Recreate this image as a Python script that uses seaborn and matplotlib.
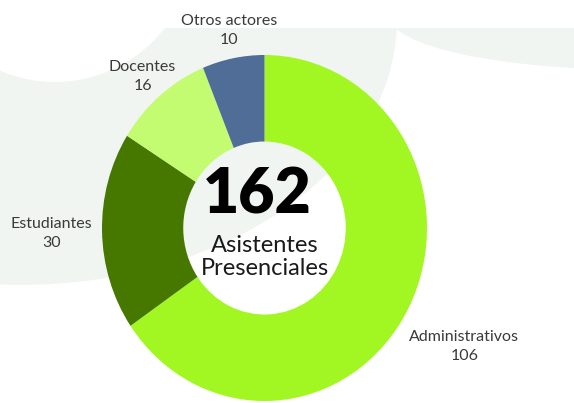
import matplotlib
matplotlib.use("Agg")
import matplotlib.pyplot as plt
from matplotlib.patches import Ellipse, Rectangle
import seaborn as sns

# data
categories = ["Administrativos", "Estudiantes", "Docentes", "Otros actores"]
values = [106, 30, 16, 10]
colors = ["#a2f722", "#467800", "#c3fc70", "#4f6d97"]
total_label = "162"
center_caption = "Asistentes\nPresenciales"

sns.set_theme(style="white")
plt.rcParams["font.family"] = ["Lato", "DejaVu Sans"]

W, H = 574, 403
fig = plt.figure(figsize=(W / 100, H / 100), dpi=100)
fig.patch.set_facecolor("white")

# decorative background, in pixel coords
bg = fig.add_axes([0, 0, 1, 1])
bg.set_xlim(0, W)
bg.set_ylim(H, 0)
bg.axis("off")
gray = "#f1f5f2"
bg.add_patch(Ellipse((20, 20), 2 * 377, 2 * 265, color=gray, lw=0))
bg.add_patch(Ellipse((640, 17), 2 * 250, 2 * 53, color=gray, lw=0))
bg.add_patch(Ellipse((55, -60), 2 * 140, 2 * 142, color="white", lw=0))
bg.add_patch(Rectangle((0, 0), W, 28, color="white", lw=0))

# donut
ax = fig.add_axes([102 / W, 2 / H, 325 / W, 346 / H])
ax.pie(values, colors=colors, startangle=90, counterclock=False,
       wedgeprops=dict(width=0.5, linewidth=0))
ax.set_aspect("auto")
ax.set_xlim(-1, 1)
ax.set_ylim(-1, 1)
ax.patch.set_alpha(0)

label_pos = {
    "Administrativos": (1.23, -0.685),
    "Estudiantes": (-1.31, -0.03),
    "Docentes": (-0.75, 0.875),
    "Otros actores": (-0.22, 1.14),
}
for cat, val in zip(categories, values):
    x, y = label_pos[cat]
    ax.text(x, y, f"{cat}\n{val}", ha="center", va="center", fontsize=11.5,
            color="#3a3a3a", linespacing=1.45, clip_on=False)

ax.text(-0.046, 0.19, total_label, ha="center", va="center", fontsize=45,
        fontweight="heavy", color="black")
ax.text(0.0, -0.17, center_caption, ha="center", va="center", fontsize=17,
        color="#1a1a1a", linespacing=1.12)

fig.savefig("out.png", dpi=100)
